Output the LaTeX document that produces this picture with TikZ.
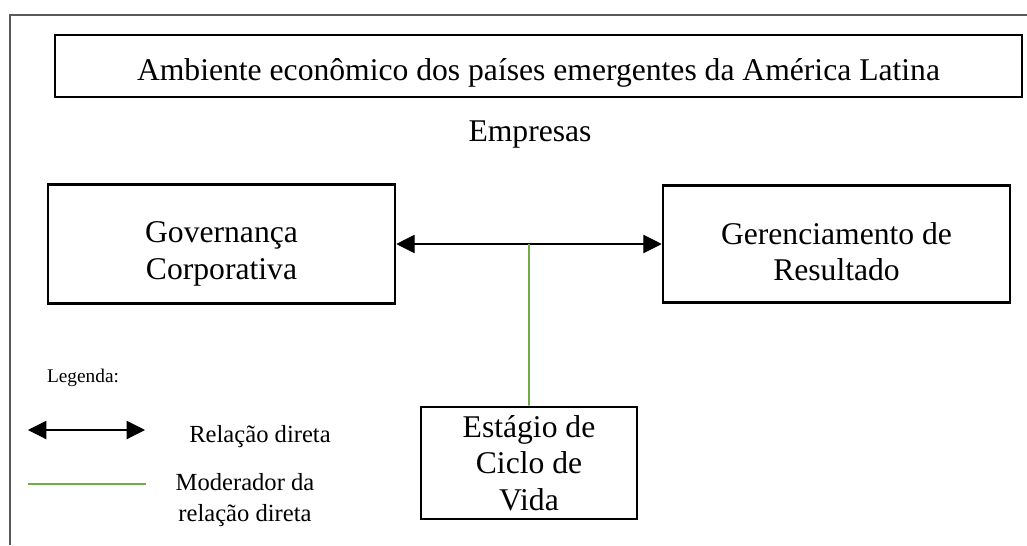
\documentclass[tikz,border=0pt]{standalone}
\usepackage{fontspec}
\setmainfont{Liberation Serif}
\usetikzlibrary{
  positioning,
  calc,
  arrows.meta}
\definecolor{modcolor}{RGB}{112,173,71}
\definecolor{framecolor}{RGB}{90,90,90}
\tikzset{
  %% bigbox : the boxes with the constructs
  bigbox/.style={
    rectangle,
    draw=black,
    line width=1.5pt,
    font=\fontsize{18}{20.7}\selectfont,
    align=center,
    inner sep=0pt
  },
  %% plain : free text
  plain/.style={
    font=\fontsize{18}{20.7}\selectfont,
    align=center
  },
  %% legtext : text of the legend
  legtext/.style={
    font=\fontsize{14}{18}\selectfont,
    align=center
  },
  %% relation : direct relation between constructs
  relation/.style={
    black,
    line width=0.6pt,
    {Triangle[length=10.5pt,width=10.5pt]}-{Triangle[length=10.5pt,width=10.5pt]}
  },
  %% moderator : moderating effect
  moderator/.style={modcolor, line width=1.1pt}
}

\begin{document}
\begin{tikzpicture}
  [x=0.02cm,
  y=-0.02cm]

  \useasboundingbox (0, 0) rectangle (1027, 545);

  %% Frame (only top and left side visible)
  \draw [framecolor, line width=0.6pt] (10, 545) -- (10, 15) -- (1027, 15);

  %% Environment
  \node (env) [bigbox, minimum width=19.34cm, minimum height=1.24cm,
  text height=20pt]
  at (538.5, 66) {%
    Ambiente econômico dos países emergentes da América Latina};

  \node (firms) [plain] at (530, 135) {Empresas};

  %% Constructs
  \node (gov) [bigbox, minimum width=6.94cm, minimum height=2.38cm,
  text height=44pt]
  at (221.5, 244) {%
    Governança\\
    Corporativa};

  \node (em) [bigbox, minimum width=6.94cm, minimum height=2.34cm,
  text height=42pt]
  at (836.5, 244) {%
    Gerenciamento de\\
    Resultado};

  \node (cycle) [bigbox, minimum width=4.32cm, minimum height=2.24cm]
  at (529, 463) {%
    Estágio de\\
    Ciclo de\\
    Vida};

  %% Connections
  \draw [relation] (gov.east) -- (em.west);
  \coordinate (mid) at ($(gov.east)!0.5!(em.west)$);
  \draw [moderator] (mid) -- (cycle.north);

  %% Legend
  \node (legend) [font=\fontsize{11}{13}\selectfont] at (83, 378) {Legenda:};

  \coordinate (relA) at (28, 430);
  \coordinate (relB) at (145, 430);
  \draw [relation] (relA) -- (relB);
  \node (reltext) [legtext] at (260, 437) {Relação direta};

  \coordinate (modA) at (28, 484);
  \coordinate (modB) at (146, 484);
  \draw [moderator] (modA) -- (modB);
  \node (modtext) [legtext] at (245, 500) {%
    Moderador da\\
    relação direta};

\end{tikzpicture}
\end{document}
